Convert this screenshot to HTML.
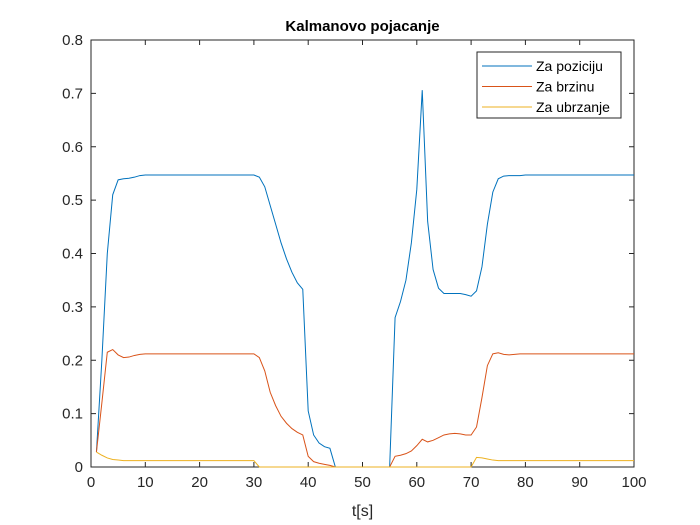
<!DOCTYPE html>
<html><head><meta charset="utf-8"><style>
body{margin:0;background:#fff;}
svg{display:block;font-family:"Liberation Sans",Arial,sans-serif;}
</style></head><body>
<svg id="chart" width="700" height="525"></svg>
<script>
const tValues=[];for(let i=1;i<=100;i++)tValues.push(i);
const posGain=[0.028,0.2,0.40,0.51,0.538,0.540,0.541,0.543,0.546,0.547,
0.547,0.547,0.547,0.547,0.547,0.547,0.547,0.547,0.547,0.547,
0.547,0.547,0.547,0.547,0.547,0.547,0.547,0.547,0.547,0.547,
0.543,0.525,0.49,0.455,0.42,0.39,0.365,0.345,0.333,0.105,
0.06,0.045,0.038,0.035,0,0,0,0,0,0,
0,0,0,0,0,0.28,0.31,0.35,0.42,0.52,
0.706,0.46,0.37,0.335,0.325,0.325,0.325,0.325,0.323,0.32,
0.33,0.375,0.455,0.515,0.54,0.545,0.546,0.546,0.546,0.547,
0.547,0.547,0.547,0.547,0.547,0.547,0.547,0.547,0.547,0.547,
0.547,0.547,0.547,0.547,0.547,0.547,0.547,0.547,0.547,0.547];
const velGain=[0.028,0.12,0.215,0.22,0.21,0.205,0.206,0.209,0.211,0.212,
0.212,0.212,0.212,0.212,0.212,0.212,0.212,0.212,0.212,0.212,
0.212,0.212,0.212,0.212,0.212,0.212,0.212,0.212,0.212,0.212,
0.205,0.18,0.14,0.115,0.095,0.082,0.072,0.065,0.06,0.02,
0.01,0.007,0.005,0.003,0,0,0,0,0,0,
0,0,0,0,0,0.02,0.022,0.025,0.03,0.04,
0.052,0.047,0.05,0.055,0.06,0.062,0.063,0.062,0.06,0.06,
0.075,0.13,0.19,0.212,0.214,0.211,0.21,0.211,0.212,0.212,
0.212,0.212,0.212,0.212,0.212,0.212,0.212,0.212,0.212,0.212,
0.212,0.212,0.212,0.212,0.212,0.212,0.212,0.212,0.212,0.212];
const accGain=[0.028,0.022,0.017,0.014,0.013,0.012,0.012,0.012,0.012,0.012,
0.012,0.012,0.012,0.012,0.012,0.012,0.012,0.012,0.012,0.012,
0.012,0.012,0.012,0.012,0.012,0.012,0.012,0.012,0.012,0.012,
0,0,0,0,0,0,0,0,0,0,0,0,0,0,0,0,0,0,0,0,
0,0,0,0,0,0,0,0,0,0,0,0,0,0,0,0,0,0,0,0,
0.018,0.017,0.015,0.013,0.012,0.012,0.012,0.012,0.012,0.012,
0.012,0.012,0.012,0.012,0.012,0.012,0.012,0.012,0.012,0.012,
0.012,0.012,0.012,0.012,0.012,0.012,0.012,0.012,0.012,0.012];
const xTicks=[0,10,20,30,40,50,60,70,80,90,100];
const yTicks=[0,0.1,0.2,0.3,0.4,0.5,0.6,0.7,0.8];
const seriesNames=["Za poziciju","Za brzinu","Za ubrzanje"];

const L=91,R=634,T=40,B=467;
const sx=v=>L+(v-0)/100*(R-L);
const sy=v=>B-(v-0)/0.8*(B-T);
const NS="http://www.w3.org/2000/svg";
const svg=document.getElementById('chart');
function mk(tag,attrs,parent){const e=document.createElementNS(NS,tag);for(const k in attrs)e.setAttribute(k,attrs[k]);(parent||svg).appendChild(e);return e;}

const frame=mk('rect',{x:L,y:T,width:R-L,height:B-T,fill:'#fff',stroke:'#262626','stroke-width':1});



xTicks.forEach(v=>{
  const x=sx(v);
  const t1=mk('line',{x1:x,x2:x,y1:B,y2:B-5,stroke:'#262626'});
  
  
  mk('line',{x1:x,x2:x,y1:T,y2:T+5,stroke:'#262626'});
  const tx=mk('text',{x:x,y:B+20,'text-anchor':'middle','font-size':15,fill:'#262626'});
  tx.textContent=v;
  
  
});
yTicks.forEach(v=>{
  const y=sy(v);
  const t1=mk('line',{x1:L,x2:L+5,y1:y,y2:y,stroke:'#262626'});
  
  
  mk('line',{x1:R,x2:R-5,y1:y,y2:y,stroke:'#262626'});
  const tx=mk('text',{x:L-8,y:y+5,'text-anchor':'end','font-size':15,fill:'#262626'});
  tx.textContent=v===0?'0':v.toFixed(1);
  
  
});

const colors=['#0072BD','#D95319','#EDB120'];
[posGain,velGain,accGain].forEach((arr,i)=>{
  const d=arr.map((v,j)=>(j?'L':'M')+sx(tValues[j]).toFixed(2)+','+sy(v).toFixed(2)).join(' ');
  const p=mk('path',{d:d,fill:'none',stroke:colors[i],'stroke-width':1});
  
  
});

const title=mk('text',{x:(L+R)/2,y:31,'text-anchor':'middle','font-size':15,'font-weight':'bold',fill:'#000'});
title.textContent='Kalmanovo pojacanje';


const xl=mk('text',{x:(L+R)/2,y:516,'text-anchor':'middle','font-size':16,fill:'#262626'});
xl.textContent='t[s]';



const lg=mk('g',{});


mk('rect',{x:477,y:52,width:144,height:66,fill:'#fff',stroke:'#262626','stroke-width':1},lg);
seriesNames.forEach((n,i)=>{
  const y=66+i*20.5;
  const ln=mk('line',{x1:482,x2:532,y1:y,y2:y,stroke:colors[i]},lg);
  
  
  const tx=mk('text',{x:536,y:y+5,'font-size':14,fill:'#000'},lg);
  tx.textContent=n;
  
  
});
</script>
</body></html>
